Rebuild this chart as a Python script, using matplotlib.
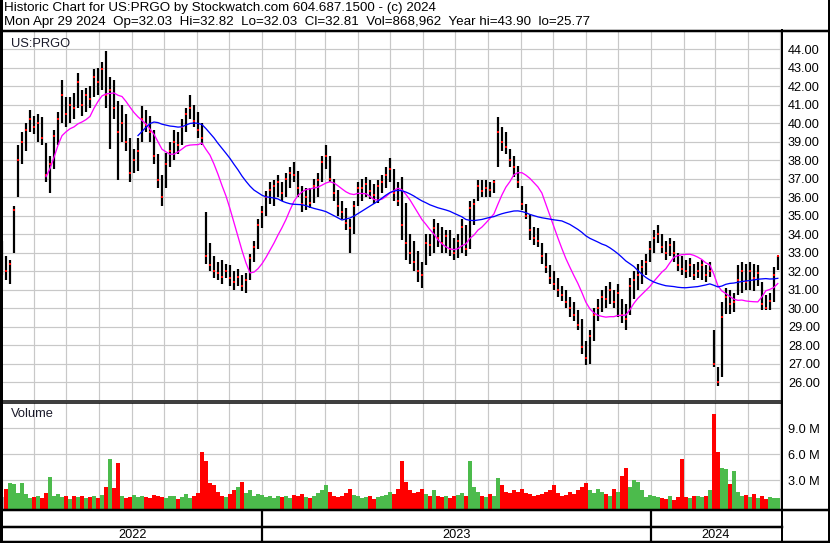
import numpy as np
import pandas as pd
import matplotlib
matplotlib.use("Agg")
import matplotlib.pyplot as plt
import matplotlib.dates as mdates
from matplotlib.lines import Line2D

plt.rcParams["font.family"] = ["Liberation Sans", "DejaVu Sans"]

# roughly every second session, May 2 2022 .. Apr 29 2024
lows = [31.8, 31.5, 31.3, 33.0, 36.0, 37.8, 38.5, 39.5, 39.4, 39.0,
        38.8, 36.8, 36.2, 37.5, 38.8, 40.0, 39.8, 40.0, 40.2, 40.8,
        40.4, 40.6, 40.8, 41.4, 41.5, 41.8, 40.8, 38.6, 40.2, 36.9,
        39.0, 38.5, 36.8, 37.3, 37.4, 39.0, 39.5, 39.0, 37.8, 36.5,
        35.5, 36.5, 37.6, 38.0, 38.3, 38.8, 39.5, 40.2, 39.8, 39.2,
        38.8, 32.4, 32.0, 31.6, 31.5, 31.3, 31.6, 31.2, 31.0, 31.2,
        30.9, 30.8, 31.5, 32.5, 33.2, 34.3, 35.0, 35.6, 35.5, 36.0,
        35.8, 36.0, 36.5, 36.8, 36.0, 35.2, 35.3, 35.4, 35.7, 36.0,
        36.8, 37.5, 36.8, 35.8, 35.0, 34.8, 34.2, 33.0, 34.0, 35.5,
        35.8, 36.0, 35.9, 35.6, 35.7, 36.2, 36.5, 36.8, 35.8, 35.5,
        33.7, 32.6, 32.4, 32.0, 31.4, 31.1, 32.3, 32.8, 33.0, 33.3,
        33.0, 33.0, 32.8, 32.6, 32.7, 33.0, 32.8, 33.2, 34.5, 35.8,
        36.0, 36.0, 36.0, 36.2, 37.6, 38.5, 38.3, 37.6, 37.1, 36.5,
        35.3, 34.8, 33.7, 33.4, 33.3, 32.4, 31.9, 31.3, 31.0, 30.6,
        30.4, 30.0, 29.5, 29.3, 28.8, 27.5, 26.9, 27.0, 28.2, 29.3,
        29.8, 30.0, 30.2, 30.0, 29.5, 29.2, 28.8, 29.6, 30.5, 31.0,
        31.3, 31.8, 32.5, 33.0, 33.5, 33.0, 32.6, 32.8, 32.5, 32.0,
        31.8, 31.6, 31.7, 31.5, 31.6, 31.5, 31.4, 31.7, 26.8, 25.8,
        26.3, 29.7, 29.7, 29.8, 30.7, 30.8, 31.0, 31.0, 30.9, 31.2,
        29.9, 29.9, 29.9, 30.3, 32.03]
highs = [33.6, 32.8, 32.6, 35.5, 38.8, 39.5, 40.0, 40.7, 40.4, 40.5,
         40.3, 38.9, 38.2, 39.6, 40.6, 42.3, 41.4, 41.4, 41.6, 42.7,
         41.8, 41.9, 42.0, 42.9, 43.0, 43.3, 43.9, 42.5, 42.3, 41.2,
         41.0, 40.5, 39.2, 38.6, 39.2, 40.9, 40.7, 40.4, 39.6, 38.3,
         37.2, 38.4, 39.0, 39.6, 39.5, 40.2, 40.8, 41.5, 41.0, 40.6,
         40.0, 35.2, 33.5, 32.8, 32.5, 32.6, 32.4, 32.3, 32.0, 32.1,
         31.8, 31.9, 32.9, 33.6, 34.8, 35.5, 36.3, 36.8, 36.9, 37.2,
         36.8, 37.3, 37.6, 37.9, 37.4, 36.6, 36.5, 36.5, 37.0, 37.3,
         38.2, 38.8, 38.2, 37.0, 36.4, 35.8, 35.4, 34.8, 35.8, 36.8,
         37.0, 37.1, 36.9, 36.7, 36.9, 37.2, 37.6, 38.1, 37.5, 36.8,
         37.1, 35.7, 34.0, 33.6, 33.1, 32.5, 34.0, 34.0, 34.8, 34.6,
         34.4, 34.2, 34.2, 33.8, 34.0, 34.8, 34.5, 35.8, 35.9, 36.9,
         36.9, 36.9, 36.8, 36.9, 40.3, 39.8, 39.5, 38.6, 38.2, 37.7,
         36.6, 35.6, 35.1, 34.4, 34.3, 33.5, 33.0, 32.3, 32.0, 31.6,
         31.2, 31.0, 30.6, 30.3, 29.9, 29.4, 28.2, 28.8, 30.0, 30.5,
         31.0, 31.2, 31.4, 31.0, 31.3, 30.5, 30.2, 31.6, 32.0, 32.4,
         32.6, 32.9, 33.6, 34.2, 34.5, 34.0, 33.6, 33.8, 33.6, 33.0,
         32.8, 32.6, 32.7, 32.4, 32.5, 32.6, 32.3, 32.5, 28.8, 26.8,
         30.3, 31.1, 31.0, 30.8, 32.3, 32.5, 32.4, 32.5, 32.4, 32.3,
         31.4, 30.7, 30.8, 32.2, 32.82]
closes = [32.5, 32.0, 32.4, 35.3, 38.0, 39.0, 39.6, 40.2, 39.8, 40.0,
          39.2, 37.2, 37.8, 39.3, 40.2, 41.5, 40.5, 41.0, 40.8, 42.2,
          41.0, 41.5, 41.3, 42.5, 42.2, 42.9, 41.5, 41.8, 40.8, 39.5,
          40.0, 39.0, 37.3, 38.0, 38.5, 40.2, 39.9, 39.5, 38.2, 36.9,
          36.0, 37.8, 38.5, 39.0, 38.8, 39.8, 40.5, 40.8, 40.1, 39.6,
          39.2, 32.8, 32.3, 32.0, 31.9, 31.7, 32.0, 31.6, 31.4, 31.7,
          31.2, 31.5, 32.7, 33.3, 34.5, 35.2, 36.0, 36.4, 36.6, 36.8,
          36.2, 37.0, 37.3, 37.2, 36.5, 35.6, 36.0, 35.7, 36.6, 36.9,
          37.9, 38.2, 37.0, 36.2, 35.5, 35.2, 34.6, 34.3, 35.5, 36.5,
          36.5, 36.7, 36.3, 36.1, 36.6, 36.8, 37.2, 37.5, 36.2, 35.8,
          34.5, 33.5, 33.0, 32.5, 32.0, 31.8, 33.5, 33.4, 34.3, 33.8,
          33.5, 33.9, 33.2, 33.0, 33.6, 34.4, 33.2, 35.4, 35.6, 36.6,
          36.3, 36.5, 36.4, 36.8, 39.5, 39.0, 38.7, 38.0, 37.6, 36.8,
          35.6, 35.0, 34.2, 33.8, 33.6, 32.8, 32.2, 31.6, 31.3, 31.0,
          30.7, 30.3, 30.0, 29.6, 29.1, 27.9, 27.3, 28.5, 29.6, 30.0,
          30.6, 30.5, 31.0, 30.3, 30.8, 29.6, 29.4, 31.2, 31.5, 31.8,
          32.2, 32.5, 33.2, 33.8, 34.0, 33.3, 33.0, 33.4, 33.0, 32.3,
          32.1, 32.0, 32.3, 31.8, 32.0, 32.3, 31.8, 32.0, 27.0, 26.0,
          29.5, 30.6, 30.2, 30.3, 31.5, 32.0, 31.4, 32.0, 31.6, 31.9,
          30.2, 30.0, 30.4, 31.8, 32.81]
volumes = [1.0, 2.0, 2.6, 2.5, 1.5, 2.6, 1.4, 0.9, 1.0, 1.2,
           0.9, 1.5, 3.3, 1.2, 1.4, 1.0, 1.1, 0.8, 1.2, 1.0,
           1.1, 0.9, 1.0, 1.1, 0.9, 1.3, 2.2, 5.4, 2.1, 5.0,
           1.2, 0.9, 1.0, 1.3, 1.0, 1.2, 1.0, 0.9, 1.3, 1.1,
           1.0, 0.9, 1.1, 1.2, 0.8, 1.0, 1.4, 0.9, 1.2, 1.5,
           6.2, 5.2, 2.6, 2.4, 1.6, 1.2, 1.0, 1.4, 1.8, 2.2,
           2.8, 1.5, 1.8, 1.2, 1.4, 1.3, 1.0, 1.2, 0.9, 1.1,
           1.0, 1.2, 0.9, 1.3, 1.1, 1.4, 1.0, 0.9, 1.2, 1.5,
           1.8, 2.4, 1.6, 1.2, 1.0, 1.1, 1.5, 2.0, 1.3, 1.1,
           0.9, 1.0, 1.2, 0.8, 1.0, 1.1, 1.3, 1.6, 1.4, 2.0,
           5.2, 2.8, 1.8, 1.5, 1.6, 2.0, 1.4, 1.2, 1.8, 1.1,
           1.0, 1.2, 0.9, 1.1, 1.3, 1.5, 1.2, 5.2, 2.2, 1.6,
           1.2, 1.0, 1.4, 1.1, 3.2, 2.4, 1.6, 1.5, 1.8, 1.6,
           2.0, 1.5, 1.4, 1.2, 1.3, 1.4, 1.6, 1.8, 2.4, 1.5,
           1.2, 1.3, 1.6, 1.4, 1.8, 2.2, 2.6, 1.8, 1.5, 2.0,
           1.6, 1.4, 1.2, 2.0, 1.6, 3.5, 4.4, 2.2, 3.0, 2.8,
           1.8, 1.0, 1.3, 1.2, 1.0, 0.9, 0.8, 1.1, 0.7, 1.0,
           5.4, 1.0, 0.9, 1.1, 1.2, 1.0, 1.1, 1.9, 10.6, 6.2,
           4.4, 4.3, 2.5, 4.0, 1.6, 1.2, 1.3, 1.0, 1.4, 0.9,
           1.1, 0.8, 1.0, 0.9, 0.87]

price_ticks = list(range(26, 45))
vol_ticks = [3, 6, 9]
years = ["2022", "2023", "2024"]
title1 = "Historic Chart for US:PRGO by Stockwatch.com 604.687.1500 - (c) 2024"
title2 = ("Mon Apr 29 2024  Op=32.03  Hi=32.82  Lo=32.03  Cl=32.81  "
          "Vol=868,962  Year hi=43.90  lo=25.77")

dates = pd.date_range("2022-05-02", "2024-04-29", periods=len(closes))
s = pd.Series(closes)
ma_short = s.rolling(12).mean()
ma_long = s.rolling(35).mean()

W, H = 830, 543
fig = plt.figure(figsize=(W / 100, H / 100), dpi=100)
px = 72 / 100  # points per pixel


def box(x0, y0, x1, y1):
    return [x0 / W, 1 - y1 / H, (x1 - x0) / W, (y1 - y0) / H]


x_left = mdates.date2num(pd.Timestamp("2022-06-01")) - 31 / 1.0656
x_right = mdates.date2num(pd.Timestamp("2024-01-01")) + 130 / 1.0656
grid_kw = dict(color="#c8c8c8", lw=1.2 * px)

# price panel
ax = fig.add_axes(box(3, 32, 781, 400))
ax.set_xlim(x_left, x_right)
ax.set_ylim(25.03, 44.92)
ax.xaxis.set_major_locator(mdates.MonthLocator())
ax.set_yticks(price_ticks)
ax.set_yticklabels([f"{v:.2f}" for v in price_ticks])
ax.yaxis.tick_right()
ax.tick_params(axis="y", length=0, pad=5, labelsize=9.2)
ax.tick_params(axis="x", length=0, labelbottom=False)
ax.grid(True, **grid_kw)
ax.set_axisbelow(True)
ax.vlines(dates, lows, highs, color="black", lw=2.2 * px)
ax.plot(dates, closes, ls="none", marker="s", ms=2.4 * px, mew=0, color="red")
ax.plot(dates, ma_short, color="#ff00ff", lw=1.3 * px)
ax.plot(dates, ma_long, color="#0000ff", lw=1.3 * px)
ax.text(0.01, 0.985, "US:PRGO", transform=ax.transAxes, ha="left", va="top",
        fontsize=9.3, color="#1a1a2a")
for sp in ax.spines.values():
    sp.set_visible(False)

# volume panel
axv = fig.add_axes(box(3, 403, 781, 509))
axv.set_xlim(x_left, x_right)
axv.set_ylim(-0.35, 11.9)
axv.xaxis.set_major_locator(mdates.MonthLocator())
axv.set_yticks(vol_ticks)
axv.set_yticklabels([f"{v:.1f} M" for v in vol_ticks])
axv.yaxis.tick_right()
axv.tick_params(axis="y", length=0, pad=5, labelsize=9.2)
axv.tick_params(axis="x", length=0, labelbottom=False)
axv.grid(True, **grid_kw)
axv.set_axisbelow(True)
colors = ["#b4b4b4"] + ["#4cbb4c" if c >= p else "#ff0000"
                        for p, c in zip(closes[:-1], closes[1:])]
axv.bar(dates, np.array(volumes) + 0.35, bottom=-0.35, width=3.2,
        color=colors, lw=0)
axv.text(0.01, 0.95, "Volume", transform=axv.transAxes, ha="left", va="top",
         fontsize=9.3, color="#1a1a2a")
for sp in axv.spines.values():
    sp.set_visible(False)

# date strip
axd = fig.add_axes(box(3, 509, 781, 541))
axd.set_xlim(x_left, x_right)
axd.set_ylim(0, 32)
axd.axis("off")
bounds = [x_left, mdates.date2num(pd.Timestamp("2023-01-01")),
          mdates.date2num(pd.Timestamp("2024-01-01")), x_right]
for b in bounds[1:-1]:
    axd.axvline(b, color="black", lw=2.2 * px)
for i, yr in enumerate(years):
    axd.text((bounds[i] + bounds[i + 1]) / 2, 6, yr, ha="center", va="center",
             fontsize=9.2)

# frame lines in pixel coords
fr = fig.add_axes([0, 0, 1, 1])
fr.set_xlim(0, W)
fr.set_ylim(H, 0)
fr.axis("off")
fr.patch.set_visible(False)
lines = [
    ((1.2, 1.2), (0, 542), 3),
    ((828.5, 828.5), (0, 542), 3),
    ((0, W), (30.5, 30.5), 2.5),
    ((781.5, 781.5), (30, 542), 2),
    ((0, 781.5), (400.5, 400.5), 1.5),
    ((0, 781.5), (403.3, 403.3), 1.5),
    ((0, W), (509.5, 509.5), 2.5),
    ((0, 781.5), (527, 527), 2.5),
    ((0, W), (541.5, 541.5), 2.5),
]
for xs, ys, w in lines:
    fr.add_line(Line2D(xs, ys, color="black", lw=w * px))

fig.text(4 / W, 1 - 8 / H, title1, ha="left", va="center", fontsize=9.65)
fig.text(4 / W, 1 - 22 / H, title2, ha="left", va="center", fontsize=9.65)

fig.savefig("out.png", dpi=100)
